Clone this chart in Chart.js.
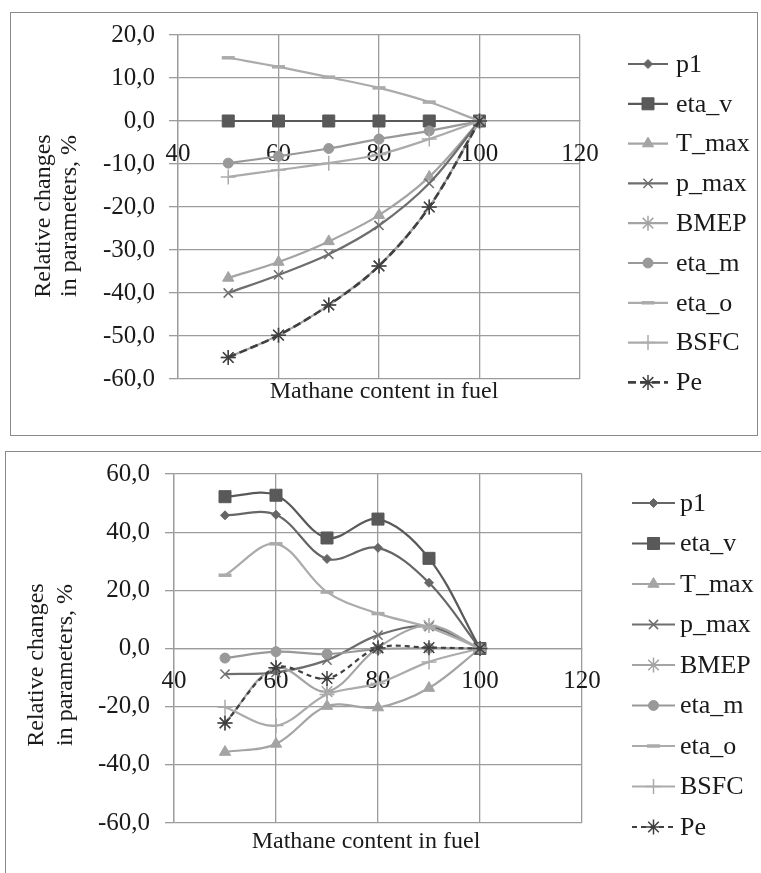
<!DOCTYPE html>
<html>
<head>
<meta charset="utf-8">
<title>Relative changes in parameters</title>
<script src="https://cdn.jsdelivr.net/npm/chart.js@4.4.1/dist/chart.umd.min.js"></script>
<style>
  body { margin: 0; background: #fff; width: 761px; height: 873px; overflow: hidden; position: relative; }
  .frame { position: absolute; border: 1.5px solid #8a8a8a; box-sizing: border-box; }
  canvas { position: absolute; }
</style>
</head>
<body>
<div class="frame" style="left:10px;top:12px;width:748px;height:424px"></div>
<canvas id="topChart" width="747" height="423" style="left:10px;top:12px"></canvas>
<div class="frame" style="left:5px;top:451px;width:800px;height:500px"></div>
<canvas id="bottomChart" width="756" height="422" style="left:5px;top:451px"></canvas>

<script>
// Methane content in fuel, %
const methane = [50, 60, 70, 80, 90, 100];
const xTicks = [40, 60, 80, 100, 120];
const seriesNames = ['p1', 'eta_v', 'T_max', 'p_max', 'BMEP', 'eta_m', 'eta_o', 'BSFC', 'Pe'];

// Upper chart
const topP1   = [0, 0, 0, 0, 0, 0];
const topEtaV = [0, 0, 0, 0, 0, 0];
const topTmax = [-36.5, -32.8, -28.0, -21.9, -13.0, 0];
const topPmax = [-40.0, -35.8, -31.0, -24.3, -14.5, 0];
const topBmep = [-55.0, -49.8, -42.8, -33.7, -20.0, 0];
const topEtaM = [-9.8, -8.2, -6.4, -4.2, -2.3, 0];
const topEtaO = [14.7, 12.6, 10.2, 7.7, 4.4, 0];
const topBsfc = [-13.0, -11.4, -9.8, -7.8, -4.2, 0];
const topPe   = [-55.0, -49.8, -42.8, -33.7, -20.0, 0];
const topYTicks = [-60, -50, -40, -30, -20, -10, 0, 10, 20];

// Lower chart
const botP1   = [45.8, 46.0, 30.8, 34.6, 22.6, 0];
const botEtaV = [52.2, 52.7, 38.0, 44.5, 31.0, 0];
const botTmax = [-35.6, -32.8, -19.8, -20.3, -13.6, 0];
const botPmax = [-8.8, -8.2, -4.0, 4.6, 7.5, 0];
const botBmep = [-25.6, -6.6, -14.8, 0.3, 7.9, 0];
const botEtaM = [-3.3, -1.1, -1.9, -0.2, 0.1, 0];
const botEtaO = [25.2, 36.0, 19.4, 12.0, 7.2, 0];
const botBsfc = [-20.2, -26.5, -15.8, -12.0, -4.6, 0];
const botPe   = [-25.6, -6.6, -10.3, 0.2, 0.3, 0];
const botYTicks = [-60, -40, -20, 0, 20, 40, 60];

const FONT = "'Liberation Serif', 'Times New Roman', serif";
const GRID = '#9c9c9c';

// look of each series (marker + line)
const seriesStyle = {
    p1:    { color: '#666666', point: 'rectRot',  radius: 4.5, fill: true },
    eta_v: { color: '#595959', point: 'rect',     radius: 8.5, fill: true },
    T_max: { color: '#a4a4a4', point: 'triangle', radius: 6.5, fill: true },
    p_max: { color: '#6e6e6e', point: 'crossRot', radius: 6.5 },
    BMEP:  { color: '#a4a4a4', point: 'star',     radius: 7.5 },
    eta_m: { color: '#999999', point: 'circle',   radius: 5,   fill: true },
    eta_o: { color: '#ababab', point: 'line',     radius: 6.5, pw: 3.5 },
    BSFC:  { color: '#ababab', point: 'cross',    radius: 7.5 },
    Pe:    { color: '#404040', point: 'star',     radius: 7.5 }
};

function fmt(v) {
    return v.toFixed(1).replace('.', ',');
}

function makeDatasets(valueLists, peDash, peWidth) {
    return valueLists.map((vals, i) => {
        const name = seriesNames[i];
        const st = seriesStyle[name];
        return {
            label: name,
            data: methane.map((x, k) => ({ x: x, y: vals[k] })),
            borderColor: st.color,
            backgroundColor: st.color,
            borderWidth: name === 'Pe' ? peWidth : 2.2,
            borderDash: name === 'Pe' ? peDash : [],
            pointStyle: st.point,
            pointRadius: st.radius,
            pointHoverRadius: st.radius,
            pointBorderWidth: st.pw || (st.fill ? 1 : 1.5),
            pointBackgroundColor: st.fill ? st.color : 'rgba(0,0,0,0)',
            pointBorderColor: st.color,
            tension: 0.35,
            order: seriesNames.length - i
        };
    });
}

// legend on the right plus the two axis titles
const sideLegend = {
    id: 'sideLegend',
    afterDraw(chart, args, opts) {
        const ctx = chart.ctx;
        ctx.save();
        chart.data.datasets.forEach((ds, i) => {
            const y = opts.top + i * opts.step;
            ctx.strokeStyle = ds.borderColor;
            ctx.lineWidth = ds.borderWidth;
            ctx.setLineDash(ds.borderDash || []);
            ctx.beginPath();
            ctx.moveTo(opts.x1, y);
            ctx.lineTo(opts.x2, y);
            ctx.stroke();
            ctx.setLineDash([]);
            ctx.fillStyle = ds.pointBackgroundColor;
            ctx.strokeStyle = ds.pointBorderColor;
            ctx.lineWidth = ds.pointBorderWidth;
            Chart.helpers.drawPoint(ctx, {
                pointStyle: ds.pointStyle, radius: ds.pointRadius,
                borderWidth: ds.pointBorderWidth, rotation: 0
            }, (opts.x1 + opts.x2) / 2, y);
            ctx.fillStyle = '#1a1a1a';
            ctx.font = '26px ' + FONT;
            ctx.textAlign = 'left';
            ctx.textBaseline = 'middle';
            ctx.fillText(ds.label, opts.textX, y + 1);
        });

        ctx.fillStyle = '#1a1a1a';
        ctx.font = '24px ' + FONT;
        ctx.textAlign = 'center';
        ctx.textBaseline = 'middle';
        ctx.fillText(opts.xTitle.text, opts.xTitle.x, opts.xTitle.y);

        opts.yTitle.lines.forEach((line, k) => {
            ctx.save();
            ctx.translate(opts.yTitle.xs[k], opts.yTitle.y);
            ctx.rotate(-Math.PI / 2);
            ctx.fillText(line, 0, 0);
            ctx.restore();
        });
        ctx.restore();
    }
};

function makeChart(id, datasets, yTicks, area, legend, titles) {
    const canvas = document.getElementById(id);
    return new Chart(canvas, {
        type: 'line',
        data: { datasets: datasets },
        options: {
            responsive: false,
            animation: false,
            devicePixelRatio: 1,
            layout: {
                padding: { left: 0, top: area.top, right: canvas.width - area.right, bottom: canvas.height - area.bottom }
            },
            scales: {
                x: {
                    type: 'linear',
                    position: { y: 0 },
                    min: xTicks[0],
                    max: xTicks[xTicks.length - 1],
                    ticks: {
                        stepSize: xTicks[1] - xTicks[0],
                        color: '#1a1a1a',
                        padding: 18,
                        maxRotation: 0,
                        font: { family: FONT, size: 25 }
                    },
                    grid: { color: GRID, lineWidth: 1.3, drawTicks: false },
                    border: { color: GRID, width: 1.3 },
                    afterFit(s) {
                        s.height = 0;
                        s.paddingLeft = 0;
                        s.paddingRight = 0;
                    }
                },
                y: {
                    min: yTicks[0],
                    max: yTicks[yTicks.length - 1],
                    ticks: {
                        stepSize: yTicks[1] - yTicks[0],
                        color: '#1a1a1a',
                        padding: area.tickPad,
                        callback: v => fmt(v),
                        font: { family: FONT, size: 25 }
                    },
                    grid: { color: GRID, lineWidth: 1.3, tickLength: 9 },
                    border: { color: GRID, width: 1.3 },
                    afterFit(s) {
                        s.width = area.left;
                        s.paddingTop = 0;
                        s.paddingBottom = 0;
                    }
                }
            },
            plugins: {
                legend: { display: false },
                tooltip: { enabled: false },
                sideLegend: Object.assign({}, legend, titles)
            }
        },
        plugins: [sideLegend]
    });
}

makeChart('topChart',
    makeDatasets([topP1, topEtaV, topTmax, topPmax, topBmep, topEtaM, topEtaO, topBsfc, topPe], [8, 4], 2.6),
    topYTicks,
    { left: 168, top: 23, right: 570, bottom: 367, tickPad: 14 },
    { x1: 618, x2: 658, textX: 666, top: 52, step: 39.8 },
    {
        xTitle: { text: 'Mathane content in fuel', x: 374, y: 380 },
        yTitle: { lines: ['Relative changes', 'in parameters, %'], xs: [34, 60], y: 204 }
    });

makeChart('bottomChart',
    makeDatasets([botP1, botEtaV, botTmax, botPmax, botBmep, botEtaM, botEtaO, botBsfc, botPe], [5, 4], 2.2),
    botYTicks,
    { left: 169, top: 23, right: 577, bottom: 372, tickPad: 15 },
    { x1: 627, x2: 670, textX: 675, top: 52, step: 40.5 },
    {
        xTitle: { text: 'Mathane content in fuel', x: 361, y: 391 },
        yTitle: { lines: ['Relative changes', 'in parameters, %'], xs: [32, 61], y: 214 }
    });
</script>
</body>
</html>
